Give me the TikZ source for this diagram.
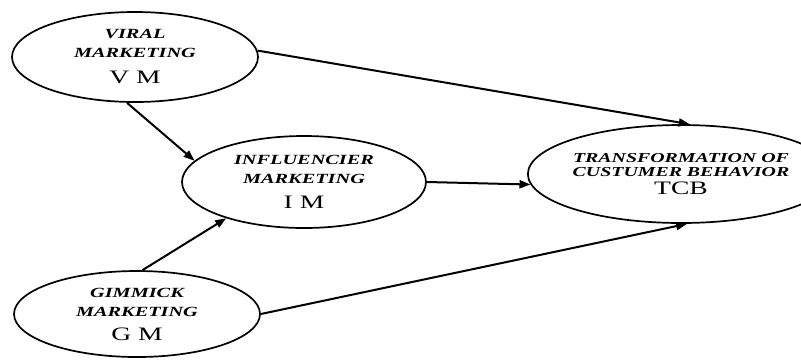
\documentclass[tikz,border=0pt]{standalone}
\usepackage{fontspec}
\usepackage{graphicx}
\setmainfont{Liberation Serif}
\usetikzlibrary{shapes.geometric,arrows.meta}
\newcommand{\nmtxt}[1]{\scalebox{1.45}[1]{\bfseries\itshape #1}}
\newcommand{\abtxt}[1]{\scalebox{1.45}[1]{\fontsize{19}{20}\selectfont #1}}
\tikzset{
  construct/.style={ellipse, draw, line width=1.7pt, inner sep=0pt, align=center,
    font=\fontsize{14}{19}\selectfont},
  link/.style={line width=2pt, -{Triangle[length=11pt,width=8pt]}}
}
\begin{document}
\begin{tikzpicture}[x=1pt,y=-1pt]
\useasboundingbox (0,0) rectangle (801,360);
\node[construct, minimum width=246pt, minimum height=90pt] (VM) at (135,57)
  {\nmtxt{VIRAL}\\ \nmtxt{MARKETING}\\[7pt] \abtxt{V M}};
\node[construct, minimum width=244pt, minimum height=92pt] (IM) at (304,182)
  {\nmtxt{INFLUENCIER}\\ \nmtxt{MARKETING}\\[6pt] \abtxt{I M}};
\node[construct, minimum width=234pt, minimum height=98pt,
  font=\fontsize{13.7}{14.5}\selectfont] (TCB) at (681,174)
  {\nmtxt{TRANSFORMATION OF}\\ \nmtxt{CUSTUMER BEHAVIOR}\\[3pt] \abtxt{TCB}};
\node[construct, minimum width=246pt, minimum height=86pt] (GM) at (137,314)
  {\nmtxt{GIMMICK}\\ \nmtxt{MARKETING}\\[5pt] \abtxt{G M}};
\draw[link] (VM.3) -- (TCB.80);
\draw[link] (VM.-100) -- (IM.169);
\draw[link] (IM.east) -- (TCB.184);
\draw[link] (GM.83) -- (IM.205);
\draw[link] (GM.east) -- (TCB.-83);
\end{tikzpicture}
\end{document}
